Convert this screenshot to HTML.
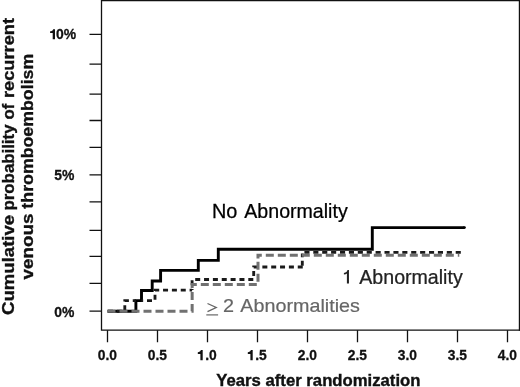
<!DOCTYPE html>
<html>
<head>
<meta charset="utf-8">
<style>
html,body{margin:0;padding:0;background:#fff;}
body{width:520px;height:387px;overflow:hidden;font-family:"Liberation Sans",sans-serif;}
svg{display:block;will-change:transform;}
text{font-family:"Liberation Sans",sans-serif;}
</style>
</head>
<body>
<svg width="520" height="387" viewBox="0 0 520 387">
<rect x="0" y="0" width="520" height="387" fill="#fff"/>
<path d="M101.5 0V330.85M100.85 0.5H520M100.85 330.2H520" fill="none" stroke="#111" stroke-width="1.3"/>
<path d="M519.4 0V330.85" fill="none" stroke="#111" stroke-width="1.2"/>
<g stroke="#111" stroke-width="1.3" fill="none">
<path d="M89.5 34.4H101.5M89.5 64.1H101.5M89.5 94.2H101.5M89.5 120.5H101.5M89.5 147.3H101.5M89.5 174.8H101.5M89.5 201.9H101.5M89.5 230.4H101.5M89.5 256.4H101.5M89.5 283.3H101.5M89.5 311.2H101.5"/>
<path d="M107.5 330.2V342.2M157.5 330.2V342.2M207.5 330.2V342.2M257.5 330.2V342.2M307.5 330.2V342.2M357.5 330.2V342.2M407.5 330.2V342.2M457.5 330.2V342.2M507.5 330.2V342.2"/>
</g>
<text transform="translate(76.2 39.3) scale(0.935 1)" font-size="14.9" font-weight="bold" text-anchor="end" fill="#111" stroke="#111" stroke-width="0.3">0%</text>
<text transform="translate(74.3 180.2) scale(0.935 1)" font-size="14.9" font-weight="bold" text-anchor="end" fill="#111" stroke="#111" stroke-width="0.3">5%</text>
<text transform="translate(74.3 317.1) scale(0.935 1)" font-size="14.9" font-weight="bold" text-anchor="end" fill="#111" stroke="#111" stroke-width="0.3">0%</text>
<text transform="translate(107.4 360.2) scale(0.93 1)" font-size="14.9" font-weight="bold" text-anchor="middle" fill="#111" stroke="#111" stroke-width="0.3">0.0</text>
<text transform="translate(157.4 360.2) scale(0.93 1)" font-size="14.9" font-weight="bold" text-anchor="middle" fill="#111" stroke="#111" stroke-width="0.3">0.5</text>
<text transform="translate(216.8 360.2) scale(0.93 1)" font-size="14.9" font-weight="bold" text-anchor="end" fill="#111" stroke="#111" stroke-width="0.3">.0</text>
<path d="M202.70 350.05H200.85C200.60 351.35 199.30 352.15 197.80 352.25V353.95H200.40V360.20H202.70Z" fill="#111"/>
<text transform="translate(266.8 360.2) scale(0.93 1)" font-size="14.9" font-weight="bold" text-anchor="end" fill="#111" stroke="#111" stroke-width="0.3">.5</text>
<path d="M252.70 350.05H250.85C250.60 351.35 249.30 352.15 247.80 352.25V353.95H250.40V360.20H252.70Z" fill="#111"/>
<text transform="translate(307.4 360.2) scale(0.93 1)" font-size="14.9" font-weight="bold" text-anchor="middle" fill="#111" stroke="#111" stroke-width="0.3">2.0</text>
<text transform="translate(357.4 360.2) scale(0.93 1)" font-size="14.9" font-weight="bold" text-anchor="middle" fill="#111" stroke="#111" stroke-width="0.3">2.5</text>
<text transform="translate(407.4 360.2) scale(0.93 1)" font-size="14.9" font-weight="bold" text-anchor="middle" fill="#111" stroke="#111" stroke-width="0.3">3.0</text>
<text transform="translate(457.4 360.2) scale(0.93 1)" font-size="14.9" font-weight="bold" text-anchor="middle" fill="#111" stroke="#111" stroke-width="0.3">3.5</text>
<text transform="translate(507.4 360.2) scale(0.93 1)" font-size="14.9" font-weight="bold" text-anchor="middle" fill="#111" stroke="#111" stroke-width="0.3">4.0</text>
<path d="M55.00 29.15H53.15C52.90 30.45 51.60 31.25 50.10 31.35V33.05H52.70V39.30H55.00Z" fill="#111"/>
<text transform="translate(216.3 385.7) scale(1.064 1)" font-size="15.7" font-weight="bold" text-anchor="start" fill="#111" stroke="#111" stroke-width="0.35">Years after randomization</text>
<text transform="translate(14.0 315.04) rotate(-90) scale(1.1013 1)" font-size="16.9" font-weight="bold" text-anchor="start" fill="#111" stroke="#111" stroke-width="0.35">Cumulative</text>
<text transform="translate(14.0 210.49) rotate(-90) scale(0.9957 1)" font-size="16.9" font-weight="bold" text-anchor="start" fill="#111" stroke="#111" stroke-width="0.35">probability</text>
<text transform="translate(14.0 119.49) rotate(-90) scale(0.9939 1)" font-size="16.9" font-weight="bold" text-anchor="start" fill="#111" stroke="#111" stroke-width="0.35">of</text>
<text transform="translate(14.0 97.98) rotate(-90) scale(1.0786 1)" font-size="16.9" font-weight="bold" text-anchor="start" fill="#111" stroke="#111" stroke-width="0.35">recurrent</text>
<text transform="translate(33.3 279.5) rotate(-90) scale(1.1135 1)" font-size="16.9" font-weight="bold" text-anchor="start" fill="#111" stroke="#111" stroke-width="0.35">venous</text>
<text transform="translate(33.3 208.63) rotate(-90) scale(1.0513 1)" font-size="16.9" font-weight="bold" text-anchor="start" fill="#111" stroke="#111" stroke-width="0.35">thromboembolism</text>
<path d="M107.5 311.2H135.9V300.6H141.5V290.5H152.2V281H160.6V270.4H198.3V260.4H218.3V249.3H372.3V227.6H464.4" fill="none" stroke="#000" stroke-width="2.9" stroke-linejoin="miter"/>
<circle cx="464.4" cy="227.6" r="1.45" fill="#000"/>
<path d="M107.5 311.2H124.8V300.6H136" fill="none" stroke="#1a1a1a" stroke-width="2.85" stroke-dasharray="5 3.85" stroke-dashoffset="8.4"/>
<path d="M141.5 300.6H155V290.1H192.1" fill="none" stroke="#1a1a1a" stroke-width="2.85" stroke-dasharray="5 3.85" stroke-dashoffset="3.35"/>
<path d="M192.1 290.1V279.5H253.7V267H303.65" fill="none" stroke="#1a1a1a" stroke-width="2.85" stroke-dasharray="5 3.85" stroke-dashoffset="4.0"/>
<path d="M302.3 265.7V253.6" fill="none" stroke="#1a1a1a" stroke-width="2.85" stroke-dasharray="4.9 3.6"/>
<path d="M302.3 252.3H462.6" fill="none" stroke="#1a1a1a" stroke-width="2.85" stroke-dasharray="5.1 3.8" stroke-dashoffset="6.8"/>
<path d="M107.5 311.3H192.15V284.6H258V258.5" fill="none" stroke="#717171" stroke-width="3.0" stroke-dasharray="8 4"/>
<path d="M258 258.5V255.3H459.3" fill="none" stroke="#717171" stroke-width="3.0" stroke-dasharray="8 4" stroke-dashoffset="1"/>
<text transform="translate(211.9 218.3) scale(1.03 1)" font-size="19.3" font-weight="normal" text-anchor="start" fill="#000" stroke="#000" stroke-width="0.25">No</text>
<text transform="translate(244.3 218.3) scale(1.015 1)" font-size="19.3" font-weight="normal" text-anchor="start" fill="#000" stroke="#000" stroke-width="0.25">Abnormality</text>
<text transform="translate(359.3 283.5) scale(1.015 1)" font-size="19.3" font-weight="normal" text-anchor="start" fill="#222" stroke="#222" stroke-width="0.25">Abnormality</text>
<path d="M348.95 270.1H347.5C347.2 271.6 346 272.7 343.9 272.9V274.5C345.3 274.4 346.3 274 346.9 273.5V283.5H348.95Z" fill="#222"/>
<text transform="translate(223.0 311.8) scale(1.033 1)" font-size="19.2" font-weight="normal" text-anchor="start" fill="#666" stroke="#666" stroke-width="0.2">2</text>
<text transform="translate(240.3 311.8) scale(1.028 1)" font-size="19.2" font-weight="normal" text-anchor="start" fill="#666" stroke="#666" stroke-width="0.2">Abnormalities</text>
<path d="M207.5 303.5L216.2 307.5L207.5 311.6" fill="none" stroke="#666" stroke-width="1.35"/>
<path d="M206.3 314.9H218.1" fill="none" stroke="#666" stroke-width="1.2"/>
</svg>
</body>
</html>
